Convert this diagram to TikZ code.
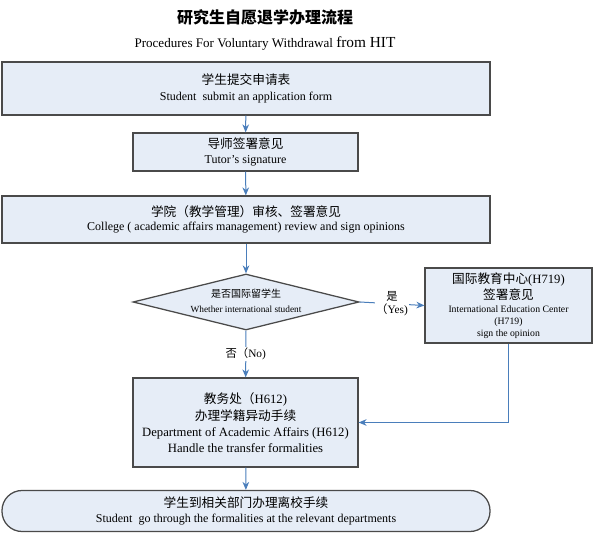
\documentclass[tikz,border=0pt]{standalone}
\usepackage{fontspec}
\setmainfont{Liberation Serif}
\newfontfamily\cjk{Noto Sans CJK SC}
\usetikzlibrary{shapes.geometric,arrows.meta}
\definecolor{boxfill}{HTML}{E6EDF7}
\definecolor{boxline}{HTML}{4A4A4A}
\definecolor{arrowblue}{HTML}{4A7EBB}
\tikzset{
  stepbox/.style={draw=boxline, line width=0.95pt, fill=boxfill, align=center, inner sep=0pt, font=\fontsize{9}{11}\selectfont},
  flow/.style={draw=arrowblue, line width=0.75pt, -{Stealth[length=6pt,width=5pt]}},
  lbl/.style={fill=white, inner sep=1pt, align=center, font=\fontsize{8.5}{10}\selectfont},
}
\begin{document}
\begin{tikzpicture}[x=0.75pt,y=-0.75pt]
\useasboundingbox (0,0) rectangle (593,534);
% title
\node (title) at (265,17) {\cjk\bfseries\fontsize{12}{14}\selectfont 研究生自愿退学办理流程};
\node (sub) at (265,44) {\fontsize{9.8}{11}\selectfont Procedures For Voluntary Withdrawal {\fontsize{11.5}{12}\selectfont from HIT}};
% boxes
\node[stepbox, minimum width=488*0.75pt, minimum height=53*0.75pt] (b1) at (246,88.5)
  {{\cjk\fontsize{9.5}{12}\selectfont 学生提交申请表}\\[1pt] Student\ \ submit an application form};
\node[stepbox, minimum width=225*0.75pt, minimum height=38*0.75pt] (b2) at (245.5,152)
  {{\cjk\fontsize{9.5}{12}\selectfont 导师签署意见}\\[0pt] Tutor{\char"0027}s signature};
\node[stepbox, minimum width=488*0.75pt, minimum height=47*0.75pt] (b3) at (246,219.5)
  {{\cjk\fontsize{9.5}{12}\selectfont 学院（教学管理）审核、签署意见}\\[0pt] College ( academic affairs management) review and sign opinions};
\node[diamond, draw=boxline, line width=0.95pt, fill=boxfill, inner sep=0pt, minimum width=226*0.75pt, minimum height=56*0.75pt] (dia) at (246,302) {};
\node[align=center, inner sep=0pt, font=\fontsize{7}{11}\selectfont] (diatext) at (246,301)
  {{\cjk\fontsize{7.5}{9}\selectfont 是否国际留学生}\\ Whether international student};
\node[stepbox, minimum width=167*0.75pt, minimum height=75*0.75pt, font=\fontsize{7.3}{9}\selectfont] (rb) at (508.5,305.5)
  {{\cjk\fontsize{9.5}{12}\selectfont 国际教育中心{\rmfamily(H719)}}\\[1pt]{\cjk\fontsize{9.5}{12}\selectfont 签署意见}\\[1pt] International Education Center\\ (H719)\\ sign the opinion};
\node[stepbox, minimum width=225*0.75pt, minimum height=89*0.75pt, font=\fontsize{9.5}{12}\selectfont] (b4) at (245.5,422.5)
  {{\cjk 教务处（}H612)\\[1pt] {\cjk 办理学籍异动手续}\\ Department of Academic Affairs (H612)\\ Handle the transfer formalities};
\node[stepbox, rounded corners=20*0.75pt, minimum width=488*0.75pt, minimum height=41*0.75pt] (term) at (246,511)
  {{\cjk\fontsize{9.5}{12}\selectfont 学生到相关部门办理离校手续}\\[0pt] Student\ \ go through the formalities at the relevant departments};
% connectors
\draw[flow] (b1) -- (b2);
\draw[flow] (b2) -- (b3);
\draw[flow] (b3) -- (dia);
\draw[flow] (dia) -- node[lbl] (nolbl) {{\cjk 否（}No)} (b4);
\draw[flow] (dia.east) -- node[lbl, pos=0.5] (yeslbl) {{\cjk 是}\\{\cjk （}Yes)} (rb.west);
\draw[flow] (rb.south) |- (b4.east);
\draw[flow] (b4) -- (term);
\end{tikzpicture}
\end{document}
